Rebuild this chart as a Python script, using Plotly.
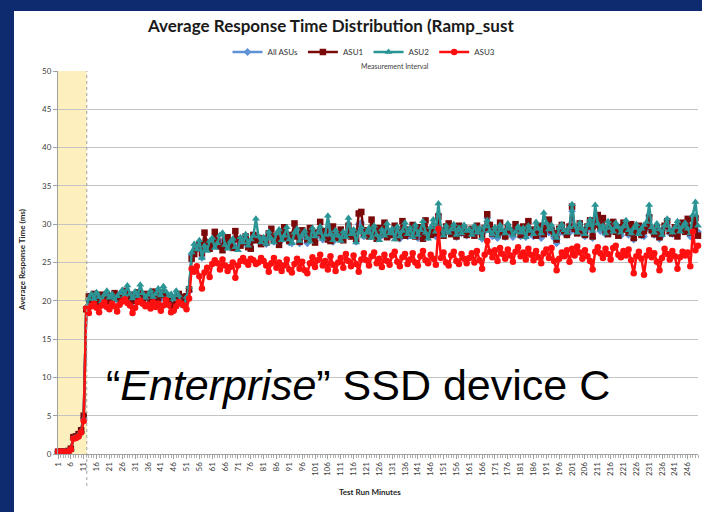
import plotly.graph_objects as go

minutes = list(range(1, 251))
tick_labels = list(range(1, 250, 5))

asu3 = [0.3,0.3,0.3,0.3,0.3,0.6,2.0,2.1,2.3,2.8,4.3,
19.0,18.4,19.3,19.6,19.1,18.5,19.4,19.8,19.2,18.9,
19.6,19.3,18.6,19.5,19.9,20.2,19.7,19.4,18.4,19.1,
19.8,20.0,19.6,19.3,19.5,19.0,19.8,19.2,19.6,18.7,
19.4,20.1,19.5,18.5,18.7,19.3,19.8,19.6,19.4,18.9,
20.3,
24.2,23.8,24.5,23.2,21.6,23.7,24.3,23.1,24.8,25.3,
24.9,24.1,25.4,24.6,23.9,24.4,25.0,23.0,24.6,25.2,
25.6,25.1,24.7,25.5,25.3,24.8,25.0,25.6,
25.2,24.6,23.8,24.9,25.6,24.3,25.0,23.9,24.6,25.4,
24.1,23.7,24.8,25.5,24.2,25.1,24.0,23.6,24.9,25.7,
24.4,25.3,26.0,24.6,25.2,24.1,25.8,24.7,23.9,25.0,
25.6,24.3,26.1,25.2,24.5,25.9,24.8,23.8,25.4,26.2,
25.3,24.6,25.8,26.3,24.9,25.5,24.4,26.0,25.2,24.7,
25.9,26.4,25.1,24.5,25.7,26.1,24.8,25.4,26.2,25.0,
24.6,25.8,26.5,25.3,24.9,26.0,25.5,24.7,29.4,25.6,
26.3,25.0,24.6,25.9,26.4,25.2,24.8,26.1,25.5,24.9,
25.6,26.2,25.0,26.5,25.3,24.2,26.0,27.8,26.4,25.7,
26.6,25.2,26.9,26.1,25.5,26.7,25.9,25.1,26.4,27.0,
25.8,26.3,25.4,26.8,26.0,25.3,26.5,25.7,24.9,26.2,
26.7,25.6,26.9,25.2,24.0,25.5,26.3,25.8,26.6,25.1,
26.8,25.9,27.1,26.3,25.5,26.6,25.8,25.2,24.1,26.4,
27.0,26.2,25.6,26.8,26.1,25.4,26.9,27.2,26.0,25.7,
26.5,25.9,26.7,25.3,23.6,25.8,26.4,25.5,23.4,25.9,
26.6,25.7,26.2,25.1,24.0,25.6,26.8,26.1,25.4,26.5,
25.8,24.2,25.7,26.4,25.9,26.3,24.5,29.0,26.6,27.2]

asu1 = [0.3,0.3,0.3,0.3,0.4,0.7,2.2,2.3,2.6,3.1,5.0,
18.9,20.6,20.1,20.9,19.8,20.4,20.8,20.2,20.7,19.9,
20.5,21.0,20.3,20.6,20.9,21.3,20.4,20.8,20.0,20.5,
21.1,20.7,20.3,20.9,20.5,20.1,21.2,20.6,20.4,20.8,
21.0,20.7,20.2,19.4,19.0,20.3,20.9,20.5,20.1,20.6,
21.5,
25.5,26.1,26.9,27.4,26.2,28.9,27.6,26.8,27.3,29.0,
27.8,27.1,26.6,27.9,28.3,27.5,26.9,29.1,28.0,27.2,
27.7,28.4,27.0,26.8,28.6,27.9,28.2,27.4,
28.1,27.6,28.8,29.4,27.9,28.5,27.3,28.9,29.6,28.2,
27.8,28.6,30.1,28.4,27.7,29.2,28.8,28.0,29.5,28.3,
27.6,28.9,30.3,28.5,29.1,28.0,27.8,29.7,28.6,28.2,
29.3,27.9,28.7,29.8,28.4,29.0,28.1,31.4,31.6,28.8,
29.2,28.4,30.6,28.9,28.1,29.5,28.7,30.2,28.3,29.0,
28.6,29.8,28.2,28.9,30.4,28.5,29.3,28.8,29.9,28.4,
28.9,29.6,28.1,30.5,29.0,28.6,29.4,28.8,31.0,29.2,
28.5,29.7,30.1,28.7,29.3,28.4,29.8,28.9,29.5,28.6,
28.9,29.4,28.5,29.8,29.1,28.6,29.5,31.3,29.9,28.8,
29.3,28.7,30.2,29.0,28.4,29.6,29.2,28.9,30.0,29.4,
28.6,29.7,29.1,30.4,28.9,29.3,28.5,29.8,29.0,28.7,
29.5,30.6,29.2,28.8,28.0,29.4,29.9,29.1,28.6,29.7,
32.3,29.4,28.8,30.1,29.2,28.6,29.7,30.5,28.4,29.9,
31.2,29.6,30.8,29.1,28.7,29.9,30.3,29.0,28.5,29.6,
30.2,29.3,28.9,30.0,28.2,29.4,29.8,28.6,29.1,29.7,
30.9,29.2,28.7,29.5,28.3,29.0,29.8,30.4,29.1,28.8,
29.6,28.4,29.9,30.2,29.0,30.7,28.9,29.5,30.8,28.5]

asu2 = [0.3,0.3,0.3,0.3,0.4,0.6,2.1,2.2,2.5,2.9,4.6,
19.2,20.3,20.9,20.2,21.1,20.5,19.9,20.8,21.3,20.4,
20.9,20.1,20.6,21.0,21.4,20.7,22.0,20.9,20.3,21.2,
20.6,22.1,21.0,20.4,20.8,21.3,20.5,20.9,21.6,20.7,
21.9,21.2,20.6,20.9,20.2,21.3,20.7,19.6,19.3,20.5,
21.8,
26.3,27.4,26.7,27.9,25.6,27.2,26.5,27.8,28.2,26.9,
27.5,28.6,28.9,27.3,26.8,27.7,28.1,27.0,26.6,28.3,
27.6,28.7,27.2,28.0,28.5,30.7,28.4,27.6,
28.3,27.4,29.0,28.1,27.6,28.8,29.3,27.9,28.5,29.6,
28.0,27.5,28.9,29.4,27.8,28.6,29.1,28.2,27.7,29.5,
28.4,28.9,29.7,28.1,28.6,31.1,28.8,27.9,29.2,28.5,
27.8,29.0,28.3,30.8,28.7,29.3,27.6,28.9,29.6,28.4,
28.9,29.5,28.2,29.8,28.6,27.9,29.3,28.5,30.1,28.8,
29.4,28.0,29.7,28.4,29.1,30.2,28.7,29.5,28.3,29.9,
28.6,29.2,30.4,28.9,28.1,29.6,30.6,29.0,32.7,29.4,
28.5,29.8,28.9,29.3,30.0,28.6,29.5,28.8,29.9,29.1,
29.3,28.6,29.8,28.9,29.5,28.2,29.7,30.5,29.1,28.7,
29.6,28.4,29.9,29.2,28.8,30.1,29.4,28.6,29.0,29.7,
28.9,29.5,28.3,29.8,29.1,28.7,30.3,29.4,28.8,31.5,
30.2,29.3,29.9,28.6,28.2,29.5,30.0,29.2,28.9,29.6,
32.6,29.8,28.9,30.2,29.4,28.7,29.9,30.6,29.1,32.5,
30.1,29.3,29.8,28.8,30.4,29.5,29.0,30.2,29.6,28.9,
29.7,30.5,29.2,28.8,29.5,30.0,28.7,29.4,29.9,30.3,
32.5,29.6,28.9,30.1,29.3,28.6,29.8,30.7,29.2,28.9,
29.6,30.4,29.0,29.7,30.2,29.4,28.8,31.2,32.9,29.8]

all_asus = [0.3,0.3,0.3,0.3,0.4,0.6,2.1,2.2,2.5,2.9,4.7,
19.1,20.0,20.4,20.3,20.2,20.2,20.0,20.5,20.7,20.0,
20.4,20.3,20.1,20.5,20.8,20.6,21.0,20.5,19.8,20.5,
20.6,21.0,20.4,20.3,20.4,20.4,20.6,20.4,20.6,20.2,
20.9,20.7,20.2,19.8,19.6,20.5,20.5,19.9,19.7,20.2,
21.2,
26.0,26.6,26.7,27.3,25.6,27.5,26.9,27.1,27.6,27.5,
27.4,27.6,27.8,27.3,27.1,27.4,27.7,27.1,27.1,27.8,
27.5,28.1,27.1,27.5,27.9,28.5,28.0,27.5,
28.0,27.4,28.5,28.4,27.7,28.4,28.3,27.9,28.5,28.6,
27.6,27.5,28.9,28.5,27.5,28.5,28.3,27.5,28.6,28.6,
27.8,28.5,29.3,28.0,28.5,29.4,28.4,27.7,28.5,28.2,
28.5,28.3,28.5,29.4,28.4,28.9,27.7,30.0,30.2,28.4,
28.8,28.7,29.2,29.0,28.1,28.6,28.5,29.1,28.7,28.4,
28.8,28.9,28.6,28.1,29.1,29.3,28.4,28.9,29.0,28.7,
28.2,29.0,29.2,28.9,28.3,29.1,29.3,28.4,31.3,28.9,
28.6,29.3,29.0,28.9,29.3,28.3,29.0,28.8,29.2,28.5,
28.8,28.9,28.8,29.1,28.9,28.1,29.1,30.8,29.2,28.4,
29.2,28.2,29.5,28.8,28.3,29.4,28.9,28.3,29.1,29.3,
28.4,29.1,28.3,29.5,28.7,28.4,29.2,28.9,28.2,29.9,
29.7,28.9,29.4,28.2,27.5,28.8,29.4,28.8,28.6,28.9,
31.7,29.2,29.0,29.6,28.8,28.4,29.3,29.8,28.2,30.6,
30.3,29.1,29.4,28.7,29.1,29.0,29.4,29.5,28.7,28.5,
29.5,29.3,28.6,29.3,28.0,29.1,29.1,28.5,28.4,29.4,
31.1,29.0,28.6,29.2,28.1,28.5,29.5,29.7,28.8,28.7,
29.1,28.5,29.1,29.6,29.1,29.4,28.4,30.5,31.0,29.0]

measurement_start = 12.2

series = [
    ("All ASUs", all_asus, "#5E93D6", "diamond", 6),
    ("ASU1", asu1, "#7A0A0A", "square", 6.5),
    ("ASU2", asu2, "#2B9595", "triangle-up", 7),
    ("ASU3", asu3, "#FF1010", "circle", 6.5),
]

fig = go.Figure()
for name, vals, col, sym, ms in series:
    fig.add_trace(go.Scatter(
        x=minutes, y=vals, name=name, mode="lines+markers",
        line=dict(color=col, width=2.5),
        marker=dict(symbol=sym, size=ms, color=col),
        cliponaxis=False,
    ))

L, R, T, B = 58, 4, 71, 58
W, H = 702, 512
pw, ph = W - L - R, H - T - B

def px_x(p):
    return (p - L) / pw

def px_y(p):
    return (H - B - p) / ph

shapes = [
    # navy slide border
    dict(type="rect", xref="paper", yref="paper", x0=px_x(0), x1=px_x(14),
         y0=px_y(H), y1=px_y(0), fillcolor="#0d2b6e", line_width=0, layer="below"),
    dict(type="rect", xref="paper", yref="paper", x0=px_x(0), x1=px_x(W),
         y0=px_y(11), y1=px_y(0), fillcolor="#0d2b6e", line_width=0, layer="below"),
    # ramp-up shading
    dict(type="rect", xref="x", yref="y", x0=1, x1=measurement_start, y0=0, y1=50,
         fillcolor="#FDF0BE", line_width=0, layer="below"),
    dict(type="line", xref="x", yref="paper", x0=measurement_start, x1=measurement_start,
         y0=px_y(486), y1=1, line=dict(color="#A0A0A0", width=1, dash="dot")),
]

fig.update_layout(
    width=W, height=H,
    margin=dict(l=L, r=R, t=T, b=B),
    paper_bgcolor="white", plot_bgcolor="white",
    showlegend=True,
    legend=dict(orientation="h", x=px_x(364), xanchor="center", y=px_y(52), yanchor="middle",
                font=dict(family="Lato", size=8, color="#333333"), itemwidth=30,
                bgcolor="rgba(0,0,0,0)"),
    shapes=shapes,
    xaxis=dict(range=[1, 250], tickmode="array", tickvals=tick_labels,
               ticktext=[str(t) for t in tick_labels], tickangle=-90,
               tickfont=dict(family="Lato", size=8, color="#404040"),
               ticks="outside", ticklen=4, tickcolor="#A0A0A0",
               showline=True, linecolor="#A0A0A0", showgrid=False, zeroline=False,
               minor=dict(tickmode="linear", tick0=1, dtick=1, ticks="outside",
                          ticklen=3, tickcolor="#B0B0B0", showgrid=False)),
    yaxis=dict(range=[0, 50], tickmode="linear", tick0=0, dtick=5,
               tickfont=dict(family="Lato", size=8, color="#404040"),
               ticks="outside", ticklen=4, tickcolor="#A0A0A0",
               showline=True, linecolor="#A0A0A0",
               showgrid=True, gridcolor="#C4C4C4", gridwidth=1, zeroline=False),
    annotations=[
        dict(text="Average Response Time Distribution (Ramp_sust", xref="paper", yref="paper",
             x=px_x(330), y=px_y(25), xanchor="center", yanchor="middle", showarrow=False,
             font=dict(family="Lato", size=17, color="#1a1a1a", weight="bold")),
        dict(text="Measurement Interval", xref="paper", yref="paper",
             x=px_x(395), y=px_y(66), xanchor="center", yanchor="middle", showarrow=False,
             font=dict(family="Lato", size=7, color="#404040")),
        dict(text="Average Response Time (ms)", xref="paper", yref="paper",
             x=px_x(22), y=px_y(260), xanchor="center", yanchor="middle", showarrow=False,
             textangle=-90, font=dict(family="Lato", size=8, color="#262626", weight="bold")),
        dict(text="Test Run Minutes", xref="paper", yref="paper",
             x=px_x(370), y=px_y(492), xanchor="center", yanchor="middle", showarrow=False,
             font=dict(family="Lato", size=8, color="#262626", weight="bold")),
        dict(text="\u201c<i>Enterprise</i>\u201d SSD device C", xref="paper", yref="paper",
             x=px_x(104), y=px_y(385), xanchor="left", yanchor="middle", showarrow=False,
             font=dict(family="Liberation Sans", size=43, color="black")),
    ],
)

fig.write_html("out.html", config={"displayModeBar": False},
               post_script="document.body.style.margin='0';document.body.style.overflow='hidden';")
